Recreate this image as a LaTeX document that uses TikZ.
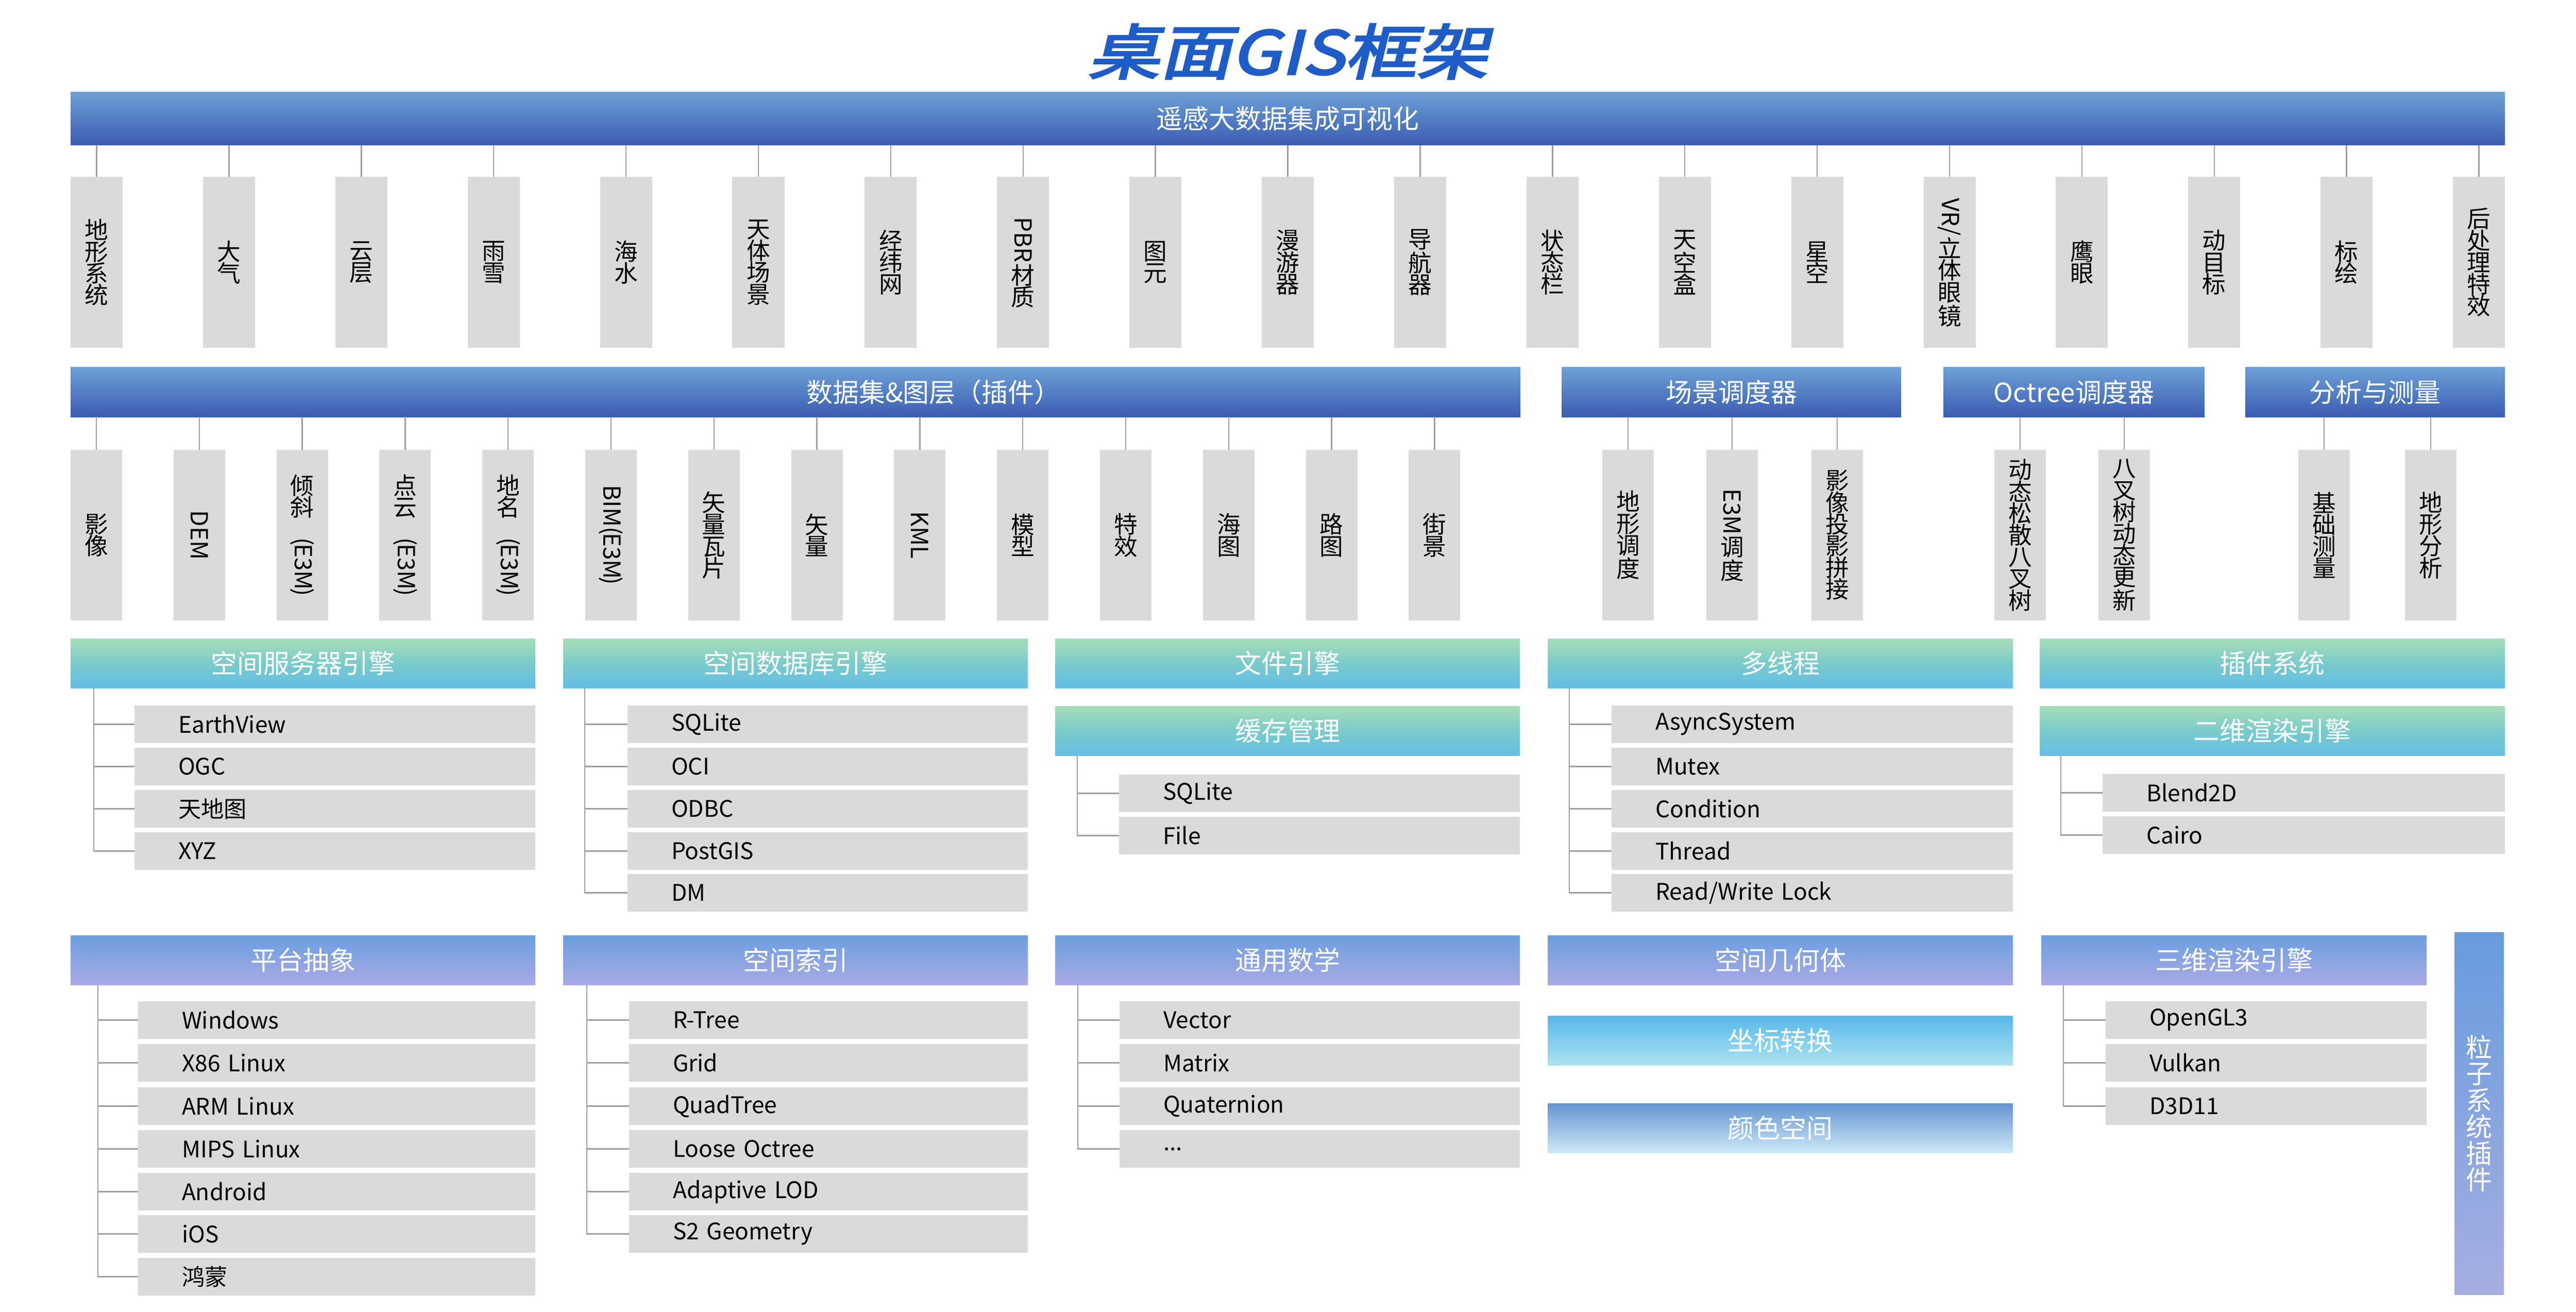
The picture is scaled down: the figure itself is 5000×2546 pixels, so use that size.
\documentclass[tikz,border=0pt]{standalone}
\usepackage{fontspec}
\usepackage{graphicx}
\setmainfont{Noto Sans CJK SC}
\newfontfamily\titlefont{Noto Sans CJK SC}[FakeSlant=0.2,FakeBold=3]
\usetikzlibrary{calc}
\definecolor{barTop}{RGB}{110,160,214}
\definecolor{barBot}{RGB}{58,92,178}
\definecolor{tealTop}{RGB}{168,221,186}
\definecolor{tealMid}{RGB}{122,203,202}
\definecolor{tealBot}{RGB}{100,190,230}
\definecolor{lavTop}{RGB}{108,158,224}
\definecolor{lavBot}{RGB}{168,170,228}
\definecolor{coordTop}{RGB}{88,184,234}
\definecolor{coordBot}{RGB}{172,226,240}
\definecolor{csTop}{RGB}{100,148,208}
\definecolor{csBot}{RGB}{205,232,248}
\definecolor{partTop}{RGB}{104,155,222}
\definecolor{partBot}{RGB}{166,174,226}
\definecolor{boxGray}{RGB}{218,218,218}
\definecolor{connGray}{RGB}{158,158,158}
\definecolor{titleBlue}{RGB}{30,92,200}

% #1 style, #2 name, #3 x1, #4 y1, #5 x2, #6 y2, #7 text
\newcommand\mkbox[7]{%
  \pgfmathsetmacro\bw{(#5-#3)*0.01}%
  \pgfmathsetmacro\bh{(#6-#4)*0.01}%
  \node[#1, minimum width=\bw cm, minimum height=\bh cm, anchor=north west] (#2) at (#3,#4) {#7};}
% #1 name, #2 x1, #3 y1, #4 x2, #5 text
\newcommand\mkitem[5]{%
  \pgfmathsetmacro\bw{(#4-#2)*0.01}%
  \node[itembox, text width=\bw cm, anchor=north west] (#1) at (#2,#3) {\hspace*{0.85cm}#5};}
\newcommand\rt[1]{\rotatebox{-90}{#1}}
\newcommand\pe{\rt{(\kern-0.08em E3M\kern-0.08em)}}

\begin{document}
\begin{tikzpicture}[x=0.01cm,y=-0.01cm,
  every node/.style={inner sep=0pt,outer sep=0pt},
  barbase/.style={draw=none,text=white,font=\fontsize{14.5}{17}\selectfont},
  bluebar/.style={barbase,top color=barTop,bottom color=barBot},
  tealbar/.style={barbase,top color=tealTop,bottom color=tealBot,middle color=tealMid},
  lavbar/.style={barbase,top color=lavTop,bottom color=lavBot},
  coordbar/.style={barbase,top color=coordTop,bottom color=coordBot},
  csbar/.style={barbase,top color=csTop,bottom color=csBot},
  partbar/.style={barbase,top color=partTop,bottom color=partBot,align=center,font=\fontsize{14.5}{14.6}\selectfont},
  vt/.style={fill=boxGray,align=center,text=black,font=\fontsize{13}{12}\selectfont},
  itembox/.style={fill=boxGray,align=left,text=black,minimum height=0.73cm,font=\fontsize{12.6}{14}\selectfont},
  conn/.style={draw=connGray,line width=0.8pt},
  thinconn/.style={draw=connGray,line width=0.7pt}
]
\fill[white] (0,0) rectangle (5000,2546);
\useasboundingbox (0,0) rectangle (5000,2546);

% title
\node[text=titleBlue,font=\titlefont\fontsize{33}{40}\selectfont] (title) at (2500,100) {\scalebox{1.2}[1]{桌面GIS框架}};

% top bar + items
\mkbox{bluebar}{topbar}{137}{179}{4862}{282}{遥感大数据集成可视化}
\foreach \lab [count=\i from 0] in {{地\\形\\系\\统},{大\\气},{云\\层},{雨\\雪},{海\\水},{天\\体\\场\\景},{经\\纬\\网},{\rt{PBR}\\材\\质},{图\\元},{漫\\游\\器},{导\\航\\器},{状\\态\\栏},{天\\空\\盒},{星\\空},{\rt{VR/}\\立\\体\\眼\\镜},{鹰\\眼},{动\\目\\标},{标\\绘},{后\\处\\理\\特\\效}}{
  \pgfmathsetmacro\xx{137+256.89*\i}
  \node[vt,minimum width=1.01cm,minimum height=3.32cm,anchor=north west] (t\i) at (\xx,343) {\lab};
  \draw[thinconn] (t\i.north) -- (t\i.north |- topbar.south);
}

% data bar + items
\mkbox{bluebar}{databar}{137}{713}{2951}{809}{}
\node[text=white,font=\fontsize{14.5}{17}\selectfont] (datatext) at (1812,761) {数据集\&图层（插件）};
\foreach \lab [count=\i from 0] in {{影\\像},{\rt{DEM}},{倾\\斜\\\pe},{点\\云\\\pe},{地\\名\\\pe},{\rt{BIM(\kern-0.08em E3M\kern-0.08em)}},{矢\\量\\瓦\\片},{矢\\量},{\rt{KML}},{模\\型},{特\\效},{海\\图},{路\\图},{街\\景}}{
  \pgfmathsetmacro\xx{137+199.8*\i}
  \node[vt,minimum width=1.0cm,minimum height=3.31cm,anchor=north west] (d\i) at (\xx,873) {\lab};
  \draw[thinconn] (d\i.north) -- (d\i.north |- databar.south);
}

% scheduler bars
\mkbox{bluebar}{schedbar}{3031}{713}{3690}{809}{场景调度器}
\mkbox{bluebar}{octbar}{3772}{713}{4279}{809}{Octree调度器}
\mkbox{bluebar}{anbar}{4358}{713}{4862}{809}{分析与测量}
\mkbox{vt}{s1}{3110}{873}{3210}{1204}{地\\形\\调\\度}
\mkbox{vt}{s2}{3312}{873}{3412}{1204}{\rt{E3M}\\调\\度}
\mkbox{vt}{s3}{3516}{873}{3616}{1204}{影\\像\\投\\影\\拼\\接}
\mkbox{vt}{o1}{3871}{873}{3971}{1204}{动\\态\\松\\散\\八\\叉\\树}
\mkbox{vt}{o2}{4073}{873}{4173}{1204}{八\\叉\\树\\动\\态\\更\\新}
\mkbox{vt}{a1}{4461}{873}{4561}{1204}{基\\础\\测\\量}
\mkbox{vt}{a2}{4668}{873}{4768}{1204}{地\\形\\分\\析}
\foreach \n in {s1,s2,s3}{\draw[thinconn] (\n.north) -- (\n.north |- schedbar.south);}
\foreach \n in {o1,o2}{\draw[thinconn] (\n.north) -- (\n.north |- octbar.south);}
\foreach \n in {a1,a2}{\draw[thinconn] (\n.north) -- (\n.north |- anbar.south);}

% ===== row 2 =====
\mkbox{tealbar}{h21}{137}{1239}{1039}{1335}{空间服务器引擎}
\mkbox{tealbar}{h22}{1093}{1239}{1995}{1335}{空间数据库引擎}
\mkbox{tealbar}{h23}{2048}{1239}{2950}{1335}{文件引擎}
\mkbox{tealbar}{h24}{3004}{1239}{3907}{1335}{多线程}
\mkbox{tealbar}{h25}{3959}{1239}{4862}{1335}{插件系统}
\mkbox{tealbar}{h23b}{2048}{1370}{2950}{1466}{缓存管理}
\mkbox{tealbar}{h25b}{3959}{1370}{4862}{1466}{二维渲染引擎}

\mkitem{i211}{261}{1369}{1039}{EarthView}
\mkitem{i212}{261}{1451}{1039}{OGC}
\mkitem{i213}{261}{1533}{1039}{天地图}
\mkitem{i214}{261}{1615}{1039}{XYZ}
\coordinate (k21) at ($(h21.south west)+(45,0)$);
\foreach \n in {i211,i212,i213,i214}{\draw[conn] (k21) |- (\n.west);}

\mkitem{i221}{1218}{1369}{1995}{SQLite}
\mkitem{i222}{1218}{1451}{1995}{OCI}
\mkitem{i223}{1218}{1533}{1995}{ODBC}
\mkitem{i224}{1218}{1615}{1995}{PostGIS}
\mkitem{i225}{1218}{1696}{1995}{DM}
\coordinate (k22) at ($(h22.south west)+(42,0)$);
\foreach \n in {i221,i222,i223,i224,i225}{\draw[conn] (k22) |- (\n.west);}

\mkitem{i231}{2172}{1503}{2950}{SQLite}
\mkitem{i232}{2172}{1585}{2950}{File}
\coordinate (k23) at ($(h23b.south west)+(43,0)$);
\foreach \n in {i231,i232}{\draw[conn] (k23) |- (\n.west);}

\mkitem{i241}{3128}{1369}{3907}{AsyncSystem}
\mkitem{i242}{3128}{1451}{3907}{Mutex}
\mkitem{i243}{3128}{1533}{3907}{Condition}
\mkitem{i244}{3128}{1615}{3907}{Thread}
\mkitem{i245}{3128}{1696}{3907}{Read/Write Lock}
\coordinate (k24) at ($(h24.south west)+(42,0)$);
\foreach \n in {i241,i242,i243,i244,i245}{\draw[conn] (k24) |- (\n.west);}

\mkitem{i251}{4081}{1502}{4862}{Blend2D}
\mkitem{i252}{4081}{1584}{4862}{Cairo}
\coordinate (k25) at ($(h25b.south west)+(41,0)$);
\foreach \n in {i251,i252}{\draw[conn] (k25) |- (\n.west);}

% ===== row 3 =====
\mkbox{lavbar}{h31}{137}{1815}{1039}{1911}{平台抽象}
\mkbox{lavbar}{h32}{1093}{1815}{1995}{1911}{空间索引}
\mkbox{lavbar}{h33}{2048}{1815}{2950}{1911}{通用数学}
\mkbox{lavbar}{h34}{3004}{1815}{3907}{1911}{空间几何体}
\mkbox{lavbar}{h35}{3962}{1815}{4710}{1911}{三维渲染引擎}
\mkbox{coordbar}{h34a}{3004}{1971}{3907}{2067}{坐标转换}
\mkbox{csbar}{h34b}{3004}{2141}{3907}{2237}{颜色空间}
\mkbox{partbar}{part}{4764}{1809}{4860}{2512}{粒\\子\\系\\统\\插\\件}

\mkitem{i311}{268}{1943}{1039}{Windows}
\mkitem{i312}{268}{2026}{1039}{X86 Linux}
\mkitem{i313}{268}{2110}{1039}{ARM Linux}
\mkitem{i314}{268}{2193}{1039}{MIPS Linux}
\mkitem{i315}{268}{2276}{1039}{Android}
\mkitem{i316}{268}{2358}{1039}{iOS}
\mkitem{i317}{268}{2441}{1039}{鸿蒙}
\coordinate (k31) at ($(h31.south west)+(53,0)$);
\foreach \n in {i311,i312,i313,i314,i315,i316,i317}{\draw[conn] (k31) |- (\n.west);}

\mkitem{i321}{1221}{1943}{1995}{R-Tree}
\mkitem{i322}{1221}{2026}{1995}{Grid}
\mkitem{i323}{1221}{2110}{1995}{QuadTree}
\mkitem{i324}{1221}{2193}{1995}{Loose Octree}
\mkitem{i325}{1221}{2276}{1995}{Adaptive LOD}
\mkitem{i326}{1221}{2358}{1995}{S2 Geometry}
\coordinate (k32) at ($(h32.south west)+(46,0)$);
\foreach \n in {i321,i322,i323,i324,i325,i326}{\draw[conn] (k32) |- (\n.west);}

\mkitem{i331}{2173}{1943}{2950}{Vector}
\mkitem{i332}{2173}{2026}{2950}{Matrix}
\mkitem{i333}{2173}{2110}{2950}{Quaternion}
\mkitem{i334}{2173}{2193}{2950}{...}
\coordinate (k33) at ($(h33.south west)+(44,0)$);
\foreach \n in {i331,i332,i333,i334}{\draw[conn] (k33) |- (\n.west);}

\mkitem{i351}{4087}{1943}{4710}{OpenGL3}
\mkitem{i352}{4087}{2026}{4710}{Vulkan}
\mkitem{i353}{4087}{2110}{4710}{D3D11}
\coordinate (k35) at ($(h35.south west)+(43,0)$);
\foreach \n in {i351,i352,i353}{\draw[conn] (k35) |- (\n.west);}
\end{tikzpicture}
\end{document}
